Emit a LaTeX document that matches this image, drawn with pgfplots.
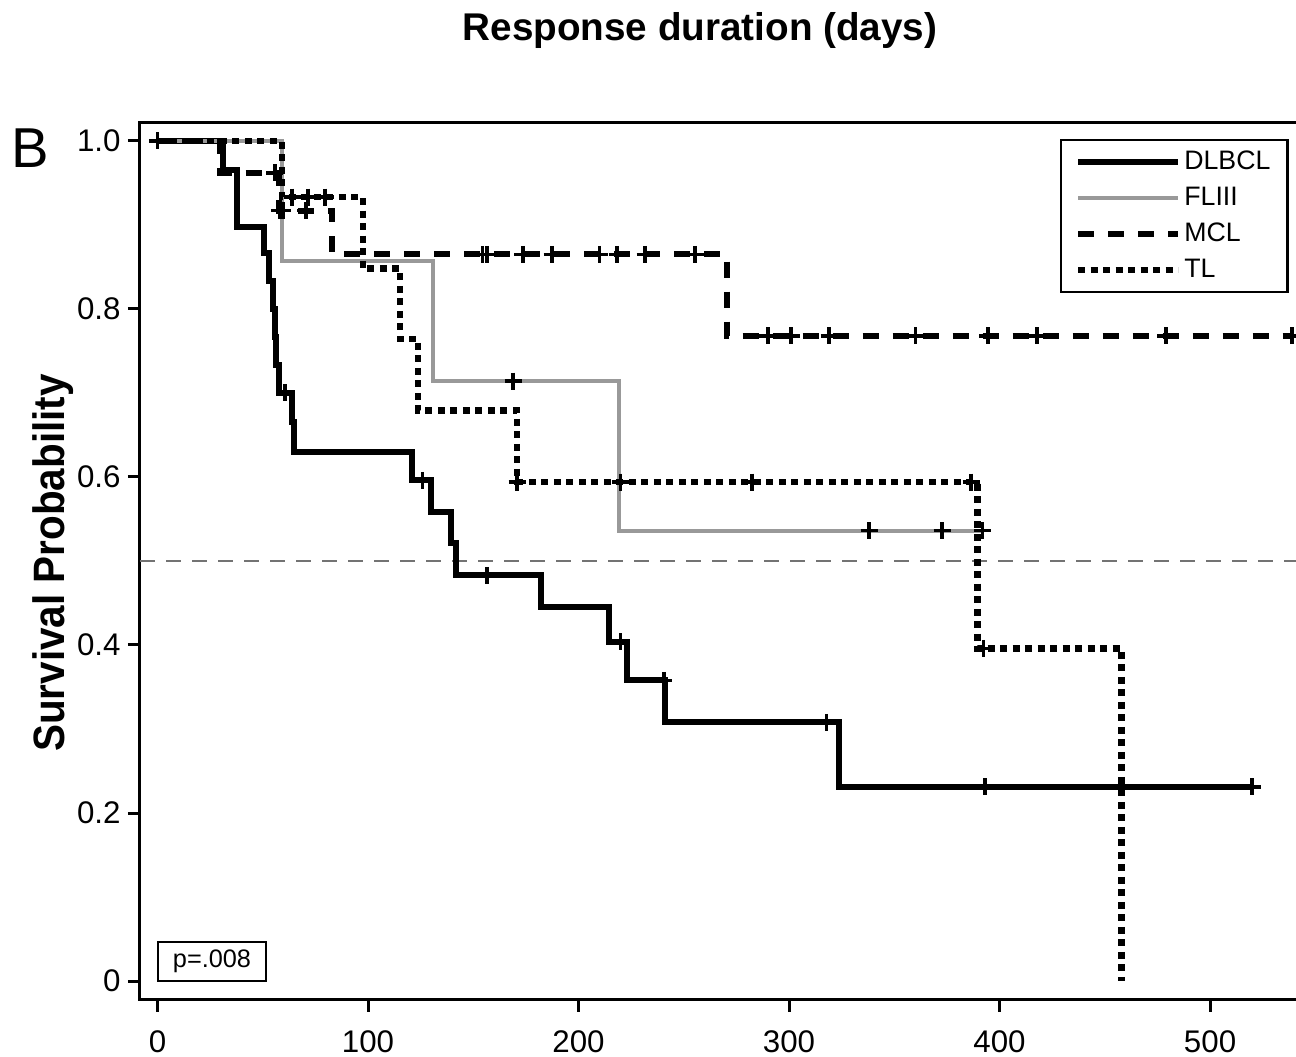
\documentclass[border=0pt]{standalone}
\usepackage{pgfplots}
\pgfplotsset{compat=1.18}
\usepackage{fontspec}
\setmainfont{Liberation Sans}
\newfontfamily\ylabfont{Liberation Sans}[FakeStretch=0.92]
\usetikzlibrary{calc}
\definecolor{flgray}{gray}{0.6}
\definecolor{refgray}{gray}{0.45}
\begin{document}
\begin{tikzpicture}
\begin{axis}[
  name=ax,
  scale only axis,
  width=116.5mm, height=87.7mm,
  xmin=-8.31, xmax=545.1,
  ymin=-0.0226, ymax=1.0214,
  xtick={0,100,200,300,400,500},
  xticklabels={0,100,200,300,400,500},
  ytick={0,0.2,0.4,0.6,0.8,1.0},
  yticklabels={0,0.2,0.4,0.6,0.8,1.0},
  tick align=outside, tickpos=left,
  major tick length=1.2mm,
  every tick/.style={black, line width=0.3mm},
  axis line style={line width=0.3mm},
  ticklabel style={font=\fontsize{8.9}{10}\selectfont},
  /pgf/number format/assume math mode=true,
  xticklabel style={yshift=-0.6mm},
  yticklabel style={xshift=0.5mm},
  legend style={at={(0.986,0.982)}, anchor=north east, draw=black, line width=0.25mm,
    font=\fontsize{7.6}{9}\selectfont, inner xsep=1.4mm, inner ysep=0.4mm,
    nodes={inner xsep=0.3mm, inner ysep=0.55mm, text height=2.0mm, text depth=0.5mm}},
  legend cell align=left,
  legend image code/.code={\draw[#1] (0mm,0mm) -- (10mm,0mm);},
]
\addplot[forget plot, refgray, line width=0.2mm, dash pattern=on 1.5mm off 1.1mm] coordinates {(-8.31,0.5) (545.1,0.5)};

\addplot[const plot, black, line width=0.6mm] coordinates {
(0,1.0)(31,0.965)(38,0.898)(50.5,0.867)(53,0.833)(55,0.800)(55.8,0.767)(56.5,0.733)(57.5,0.700)(64,0.665)(64.7,0.630)(121,0.596)(130,0.558)(139.5,0.522)(141.8,0.483)(182,0.445)(214.3,0.404)(223,0.358)(241,0.308)(323.7,0.231)(520,0.231)};
\addlegendentry{DLBCL}
\addplot[const plot, flgray, line width=0.4mm] coordinates {
(0,1.0)(59.1,0.857)(130.9,0.714)(219,0.536)(392,0.536)};
\addlegendentry{FLIII}
\addplot[const plot, black, line width=0.6mm, dash pattern=on 1.6mm off 1.4mm] coordinates {
(0,1.0)(29.7,0.962)(57.5,0.917)(83,0.865)(270.5,0.768)(539,0.768)};
\addlegendentry{MCL}
\addplot[const plot, black, line width=0.65mm, dash pattern=on 0.7mm off 0.55mm] coordinates {
(0,1.0)(59.1,0.933)(97.6,0.848)(115.2,0.764)(123.8,0.679)(170.8,0.594)(389.5,0.396)(458,0.0)};
\addlegendentry{TL}

% censor marks
\addplot[forget plot, only marks, mark=+, mark size=0.85mm, mark options={solid, black, line width=0.35mm}] coordinates {
(0,1.0)(60.6,0.700)(126,0.596)(156.5,0.483)(220,0.404)(240.6,0.358)(317.8,0.308)(393,0.231)(520,0.231)};
\addplot[forget plot, only marks, mark=+, mark size=0.85mm, mark options={solid, black, line width=0.35mm}] coordinates {
(168.9,0.714)(338,0.536)(372.7,0.536)(392,0.536)};
\addplot[forget plot, only marks, mark=+, mark size=0.85mm, mark options={solid, black, line width=0.35mm}] coordinates {
(55.8,0.962)(58,0.917)(59.5,0.917)(70.5,0.917)(154.5,0.865)(156.5,0.865)(173.6,0.865)(187.4,0.865)(210,0.865)(218.3,0.865)(231.6,0.865)(255.4,0.865)(290,0.768)(301,0.768)(319,0.768)(360,0.768)(394.5,0.768)(417.8,0.768)(479,0.768)(539,0.768)};
\addplot[forget plot, only marks, mark=+, mark size=0.85mm, mark options={solid, black, line width=0.35mm}] coordinates {
(64,0.933)(71.5,0.933)(79.6,0.933)(170.8,0.594)(220,0.594)(282.4,0.594)(386.5,0.594)(392.4,0.396)};
\end{axis}
\node[anchor=base, font=\bfseries\fontsize{11}{13}\selectfont] at ($(ax.south west)+(56mm,95.9mm)$) {Response duration (days)};
\node[rotate=90, anchor=base, font=\ylabfont\bfseries\fontsize{12.5}{14}\selectfont] at ($(ax.south west)+(-7.5mm,43.7mm)$) {Survival Probability};
\node[anchor=base west, inner sep=0pt, font=\fontsize{16}{18}\selectfont] at ($(ax.south west)+(-12.95mm,83.2mm)$) {B};
\node[draw, line width=0.25mm, minimum width=10.8mm, minimum height=3.9mm, inner sep=0pt, font=\fontsize{7.2}{8}\selectfont] at ($(ax.south west)+(7.2mm,3.85mm)$) {p=.008};
\pgfresetboundingbox
\path[use as bounding box] ($(ax.south west)+(-14mm,-5.7mm)$) rectangle ($(ax.south west)+(115.6mm,100mm)$);
\end{tikzpicture}
\end{document}
